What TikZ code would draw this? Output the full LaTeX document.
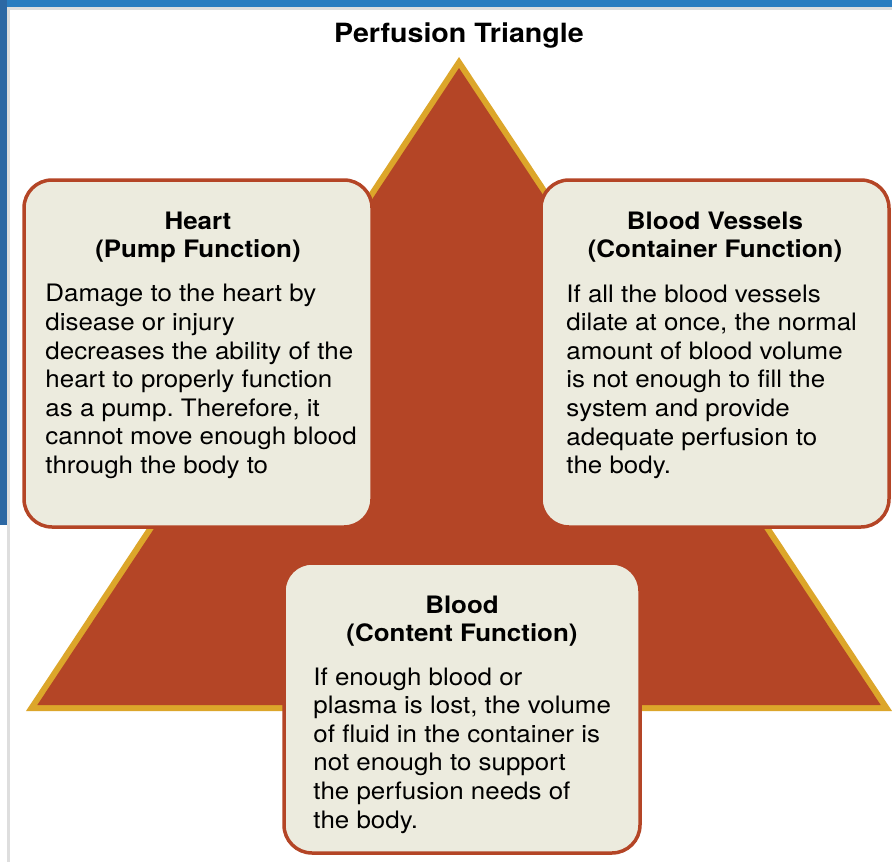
\documentclass[tikz,border=0pt]{standalone}
\usepackage{fontspec}
\setmainfont{TeX Gyre Heros}[FakeStretch=1.08]
\usepackage{tikz}
\usetikzlibrary{positioning, calc}
\definecolor{rust}{RGB}{180,69,38}
\definecolor{gold}{RGB}{220,166,42}
\definecolor{cream}{RGB}{236,235,222}
\definecolor{frameblue}{RGB}{42,125,192}
\definecolor{frameblue2}{RGB}{44,104,164}
\definecolor{framegrey}{RGB}{222,222,222}
\frenchspacing

\begin{document}
\begin{tikzpicture}[
      x=1pt, y=-1pt,
      card/.style={draw=rust, line width=3.5pt, fill=cream, rounded corners=28pt,
                   inner sep=0pt, minimum width=#1},
      head/.style={anchor=north, inner sep=0pt, align=center,
                   font=\fontsize{24}{28}\selectfont\bfseries},
      body/.style={anchor=north west, inner sep=0pt, align=left,
                   font=\fontsize{24}{28.6}\selectfont}
  ]
    \useasboundingbox (0,0) rectangle (892,862);

    % screen frame
    \fill[white] (0,0) rectangle (892,862);
    \fill[framegrey] (7,7) rectangle (892,10);
    \fill[framegrey] (7,7) rectangle (10,862);
    \fill[frameblue] (0,0) rectangle (892,7);
    \fill[frameblue2] (0,0) rectangle (7,525);

    \node[font=\fontsize{26.5}{30}\selectfont\bfseries] (title) at (459,36) {Perfusion Triangle};

    % triangle
    \fill[gold] (459,57) -- (26,711) -- (892,711) -- cycle;
    \fill[rust] (459,68) -- (37.3,705) -- (880.7,705) -- cycle;

    \node[card=348pt, minimum height=347pt] (heart)   at (198,353.5) {};
    \node[card=348pt, minimum height=347pt] (vessels) at (715,353.5) {};
    \node[card=356pt, minimum height=290pt] (blood)   at (462,708)   {};

    \node[head] (hearthead) at ([yshift=-34pt]heart.north) {Heart\\(Pump Function)};
    \node[body] (heartbody) at ([xshift=23pt, yshift=-106pt]heart.north west)
      {Damage to the heart by\\disease or injury\\decreases the ability of the\\heart to properly function\\as a pump. Therefore, it\\cannot move enough blood\\through the body to};

    \node[head] (vesselshead) at ([yshift=-34pt]vessels.north) {Blood Vessels\\(Container Function)};
    \node[body] (vesselsbody) at ([xshift=27pt, yshift=-106pt]vessels.north west)
      {If all the blood vessels\\dilate at once, the normal\\amount of blood volume\\is not enough to fill the\\system and provide\\adequate perfusion to\\the body.};

    \node[head] (bloodhead) at ([yshift=-35pt]blood.north) {Blood\\(Content Function)};
    \node[body] (bloodbody) at ([xshift=31pt, yshift=-106pt]blood.north west)
      {If enough blood or\\plasma is lost, the volume\\of fluid in the container is\\not enough to support\\the perfusion needs of\\the body.};
  \end{tikzpicture}
\end{document}
